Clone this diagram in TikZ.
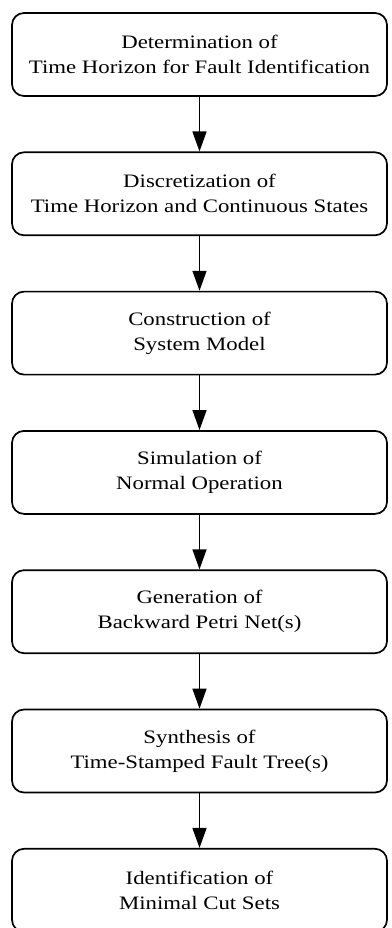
\documentclass[tikz,border=0pt]{standalone}
\usepackage{fontspec}
\setmainfont{Liberation Serif}[FakeStretch=1.2]
\usetikzlibrary{arrows.meta}
\begin{document}
\begin{tikzpicture}[x=1pt,y=-1pt,
  stepbox/.style={draw, line width=1.7pt, rounded corners=12pt,
    minimum width=375pt, minimum height=83pt, inner sep=0pt,
    align=center, font=\fontsize{19}{25}\selectfont},
  flow/.style={line width=1.4pt, -{Triangle[length=20pt,width=14pt]}}]
\useasboundingbox (0,0) rectangle (391,928);
\def\pitch{139.3}
\node[stepbox] (s1) at (199.5,54.5) {Determination of\\Time Horizon for Fault Identification};
\node[stepbox] (s2) at (199.5,54.5+\pitch) {Discretization of\\Time Horizon and Continuous States};
\node[stepbox] (s3) at (199.5,54.5+2*\pitch) {Construction of\\System Model};
\node[stepbox] (s4) at (199.5,54.5+3*\pitch) {Simulation of\\Normal Operation};
\node[stepbox] (s5) at (199.5,54.5+4*\pitch) {Generation of\\Backward Petri Net(s)};
\node[stepbox] (s6) at (199.5,54.5+5*\pitch) {Synthesis of\\Time-Stamped Fault Tree(s)};
\node[stepbox] (s7) at (199.5,54.5+6*\pitch) {Identification of\\Minimal Cut Sets};
\foreach \a/\b in {s1/s2,s2/s3,s3/s4,s4/s5,s5/s6,s6/s7}
  \draw[flow] (\a) -- (\b);
\end{tikzpicture}
\end{document}
